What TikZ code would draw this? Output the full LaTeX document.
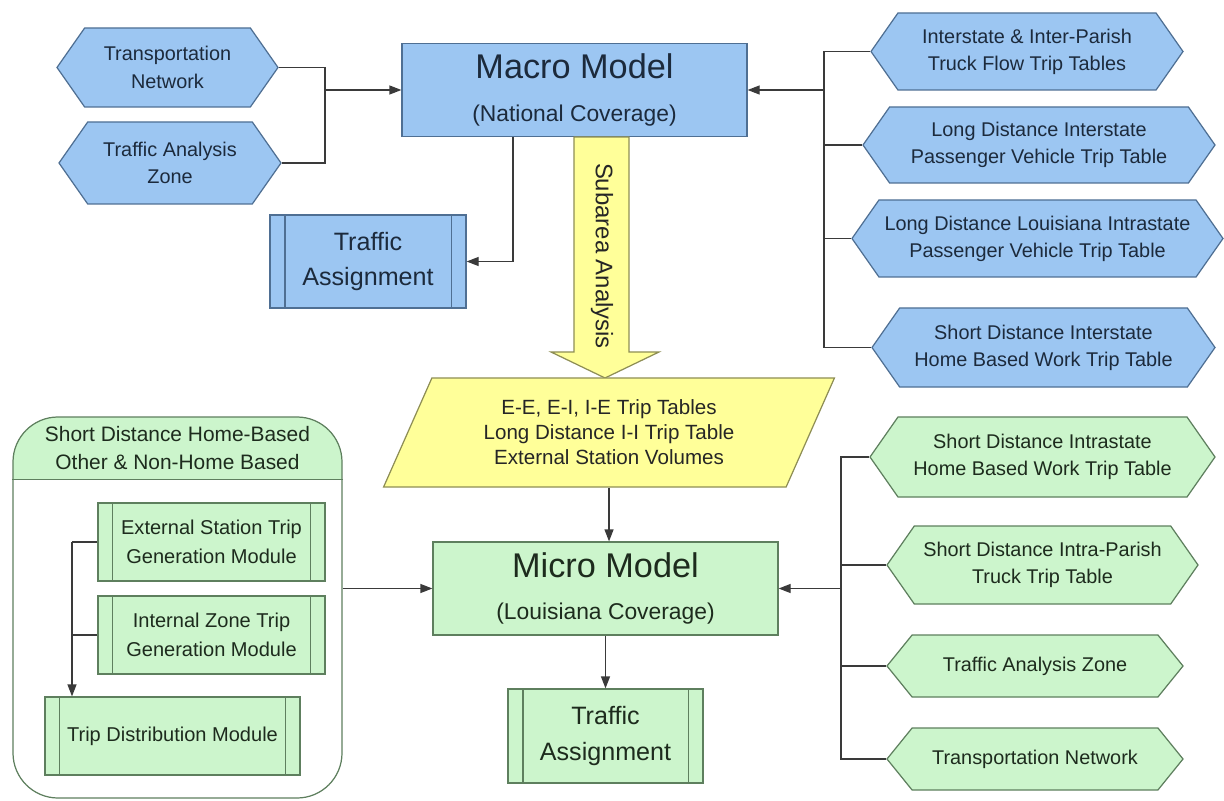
\documentclass[tikz,border=0pt]{standalone}
\usepackage{fontspec}
\setmainfont{Liberation Sans}
\usetikzlibrary{positioning}
\usetikzlibrary{shapes.symbols,shapes.geometric,arrows.meta}

\definecolor{bfill}{HTML}{9CC6F2}
\definecolor{bline}{HTML}{4F6F93}
\definecolor{btext}{HTML}{1C2A3C}
\definecolor{gfill}{HTML}{CCF5CC}
\definecolor{gline}{HTML}{5E7F5E}
\definecolor{gtext}{HTML}{1D2B1D}
\definecolor{yfill}{HTML}{FFFF99}
\definecolor{yline}{HTML}{8E8E55}
\definecolor{wirecol}{HTML}{3A3A3A}

\tikzset{
 bluebox/.style={draw=bline,fill=bfill,text=btext,line width=0.7pt},
 greenbox/.style={draw=gline,fill=gfill,text=gtext,line width=0.7pt},
 hexa/.style={signal,signal to=west and east,signal pointer angle=110,align=center,inner sep=1pt,font=\fontsize{11.3}{15.5}\selectfont},
 model/.style={rectangle,align=center,minimum width=6.9cm,minimum height=1.87cm,font=\fontsize{13}{24}\selectfont},
 proc/.style={rectangle,align=center,inner sep=0pt},
 wire/.style={draw=wirecol,line width=0.7pt},
 arr/.style={wire,-{Triangle[length=2.4mm,width=1.8mm]}},
}

\begin{document}
\begin{tikzpicture}[x=0.2mm,y=-0.2mm]
 \useasboundingbox (0,0) rectangle (1224,801);

 % macro level
 \node[model,bluebox] (macro) at (574.5,90) {{\fontsize{19.5}{24}\selectfont Macro Model}\\(National Coverage)};
 \node[hexa,bluebox,minimum width=4.42cm,minimum height=1.58cm] (tn) at (167.5,67.5) {Transportation\\Network};
 \node[hexa,bluebox,minimum width=4.44cm,minimum height=1.64cm] (taz) at (170,163) {Traffic Analysis\\Zone};
 \node[proc,bluebox,minimum width=3.92cm,minimum height=1.86cm,font=\fontsize{14.3}{20}\selectfont] (taA) at (368,261.5) {Traffic\\Assignment};

 \node[hexa,bluebox,minimum width=6.24cm,minimum height=1.54cm] (h1) at (1027,51.5) {Interstate \& Inter-Parish\\Truck Flow Trip Tables};
 \node[hexa,bluebox,minimum width=7.04cm,minimum height=1.52cm] (h2) at (1039,145) {Long Distance Interstate\\Passenger Vehicle Trip Table};
 \node[hexa,bluebox,minimum width=7.42cm,minimum height=1.54cm] (h3) at (1037.5,238.5) {Long Distance Louisiana Intrastate\\Passenger Vehicle Trip Table};
 \node[hexa,bluebox,minimum width=6.86cm,minimum height=1.58cm] (h4) at (1043.5,347.5) {Short Distance Interstate\\Home Based Work Trip Table};

 % subarea analysis
 \draw[draw=yline,fill=yfill,line width=0.7pt] (574,137) -- (574,352) -- (551,352) -- (605,378)
   -- (659,352) -- (629,352) -- (629,137) -- cycle;
 \node[rotate=-90,font=\fontsize{13.6}{16}\selectfont,text=black!85] (subarea) at (602,256) {Subarea Analysis};
 \node[trapezium,trapezium left angle=65,trapezium right angle=115,trapezium stretches=true,
   minimum width=9.04cm,minimum height=2.18cm,draw=yline,fill=yfill,line width=0.7pt,text=black!85,
   align=center,font=\fontsize{11.7}{14.2}\selectfont] (para) at (609,432.5)
   {E-E, E-I, I-E Trip Tables\\Long Distance I-I Trip Table\\External Station Volumes};

 % micro level
 \node[model,greenbox,minimum width=6.9cm,minimum height=1.86cm] (micro) at (605.5,588.5) {{\fontsize{19.5}{24}\selectfont Micro Model}\\(Louisiana Coverage)};
 \node[proc,greenbox,minimum width=3.9cm,minimum height=1.88cm,font=\fontsize{14.3}{20}\selectfont] (taB) at (605.5,736) {Traffic\\Assignment};

 \node[hexa,greenbox,minimum width=6.9cm,minimum height=1.6cm] (g1) at (1042.5,457) {Short Distance Intrastate\\Home Based Work Trip Table};
 \node[hexa,greenbox,minimum width=6.22cm,minimum height=1.56cm] (g2) at (1042.5,565) {Short Distance Intra-Parish\\Truck Trip Table};
 \node[hexa,greenbox,signal pointer angle=102,minimum width=5.92cm,minimum height=1.24cm] (g3) at (1035,666) {Traffic Analysis Zone};
 \node[hexa,greenbox,signal pointer angle=102,minimum width=5.92cm,minimum height=1.24cm] (g4) at (1035,759) {Transportation Network};

 % short distance group
 \node[draw=gline,line width=0.7pt,rounded corners=0.9cm,fill=white,minimum width=6.58cm,minimum height=7.62cm,
   path picture={\fill[gfill,sharp corners] (path picture bounding box.north west) rectangle ([yshift=-1.26cm]path picture bounding box.north east);}]
   (grp) at (177.5,607.5) {};
 \draw[gline,line width=0.7pt] ([yshift=-1.26cm]grp.north west) -- ([yshift=-1.26cm]grp.north east);
 \node[align=center,text=gtext,font=\fontsize{11.9}{15.5}\selectfont] (grptitle) at (177.5,448) {Short Distance Home-Based\\Other \& Non-Home Based};
 \node[proc,greenbox,minimum width=4.54cm,minimum height=1.56cm,font=\fontsize{11.4}{16.5}\selectfont] (esm) at (211.5,542) {External Station Trip\\Generation Module};
 \node[proc,greenbox,minimum width=4.54cm,minimum height=1.56cm,font=\fontsize{11.4}{16.5}\selectfont] (izm) at (211.5,635) {Internal Zone Trip\\Generation Module};
 \node[proc,greenbox,minimum width=5.1cm,minimum height=1.56cm,font=\fontsize{11.4}{16.5}\selectfont] (tdm) at (172.5,736) {Trip Distribution Module};

 \foreach \n/\c in {taA/bline,taB/gline,esm/gline,izm/gline,tdm/gline}
  \draw[draw=\c,line width=0.7pt] ([xshift=0.31cm]\n.north west) -- ([xshift=0.31cm]\n.south west)
    ([xshift=-0.31cm]\n.north east) -- ([xshift=-0.31cm]\n.south east);

 % connectors
 \coordinate (lj) at (325,90);
 \coordinate (rj) at (824,90);
 \coordinate (md) at (513,137);
 \coordinate (gj) at (841,588.5);
 \coordinate (lb) at (72,542);
 \draw[wire] (tn.east) -| (lj);
 \draw[wire] (taz.east) -| (lj);
 \draw[arr] (lj) -- (macro.west);
 \foreach \h in {h1,h2,h3,h4}
  \draw[wire] (\h.west) -| (rj);
 \draw[arr] (rj) -- (macro.east);
 \draw[arr] (md) |- (taA.east);
 \draw[arr] (para.south) -- (para.south |- micro.north);
 \draw[arr] (micro.south) -- (taB.north);
 \foreach \g in {g1,g2,g3,g4}
  \draw[wire] (\g.west) -| (gj);
 \draw[arr] (gj) -- (micro.east);
 \draw[arr] (grp.east |- micro.west) -- (micro.west);
 \draw[wire] (esm.west) -- (lb);
 \draw[wire] (izm.west) -- (izm.west -| lb);
 \draw[arr] (lb) -- (lb |- tdm.north);
\end{tikzpicture}
\end{document}
